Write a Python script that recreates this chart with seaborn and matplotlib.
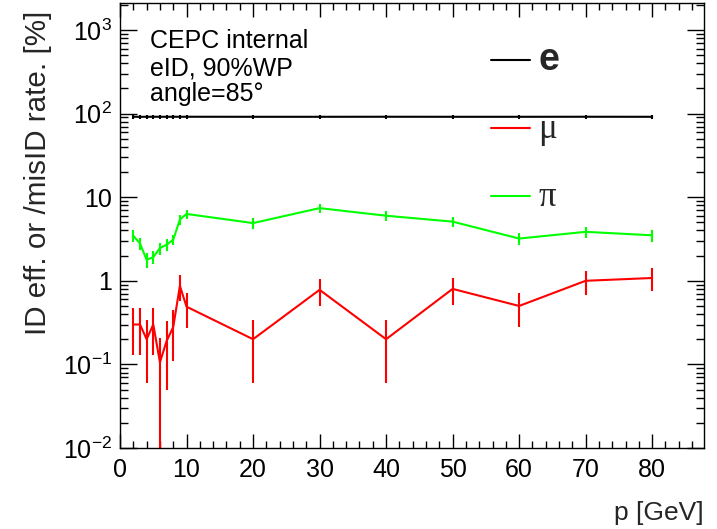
import numpy as np
import pandas as pd
import matplotlib
matplotlib.use("Agg")
import matplotlib.pyplot as plt
import matplotlib.ticker as mticker
import seaborn as sns

# momentum points [GeV]
momentum = [2, 3, 4, 5, 6, 7, 8, 9, 10, 20, 30, 40, 50, 60, 70, 80]

# electron ID efficiency [%]
eff_e = [91.5, 91.4, 91.5, 91.6, 91.5, 91.5, 91.6, 91.5, 91.6, 91.5, 91.5, 91.6, 91.5, 91.5, 91.6, 91.5]
err_e = [4.5, 4.5, 4.5, 4.5, 4.5, 4.5, 4.5, 4.5, 4.5, 4.5, 4.5, 4.5, 4.5, 4.5, 4.5, 4.5]

# muon misID rate [%]
mis_mu = [0.30, 0.30, 0.20, 0.30, 0.106, 0.19, 0.28, 0.87, 0.49, 0.20, 0.78, 0.20, 0.80, 0.50, 1.00, 1.08]
err_mu = [0.17, 0.17, 0.14, 0.17, 0.103, 0.14, 0.17, 0.30, 0.22, 0.14, 0.28, 0.14, 0.28, 0.22, 0.32, 0.33]

# pion misID rate [%]
mis_pi = [3.45, 2.80, 1.78, 1.92, 2.46, 2.70, 3.10, 5.40, 6.30, 4.90, 7.40, 6.00, 5.10, 3.20, 3.85, 3.50]
err_pi = [0.55, 0.45, 0.35, 0.35, 0.40, 0.45, 0.45, 0.70, 0.75, 0.70, 0.85, 0.75, 0.70, 0.55, 0.60, 0.55]

particles = ["e", "μ", "π"]
colors = {"e": "#000000", "μ": "#ff0000", "π": "#00ff00"}

df = pd.concat([
    pd.DataFrame({"p": momentum, "rate": eff_e, "err": err_e, "particle": "e"}),
    pd.DataFrame({"p": momentum, "rate": mis_mu, "err": err_mu, "particle": "μ"}),
    pd.DataFrame({"p": momentum, "rate": mis_pi, "err": err_pi, "particle": "π"}),
], ignore_index=True)

sns.set_theme(style="white")
plt.rcParams.update({
    "font.family": ["Liberation Sans", "DejaVu Sans"],
    "mathtext.fontset": "custom",
    "mathtext.rm": "Liberation Sans",
    "mathtext.it": "Liberation Sans:italic",
    "mathtext.bf": "Liberation Sans:bold",
    "axes.edgecolor": "black",
    "axes.linewidth": 1.0,
})

fig = plt.figure(figsize=(7.17, 5.29), dpi=100)
ax = fig.add_axes([0.1674, 0.1531, 0.8145, 0.8412])

sns.lineplot(data=df, x="p", y="rate", hue="particle", hue_order=particles,
             palette=colors, linewidth=1.5, ax=ax, legend=False, sort=False,
             estimator=None)
for name in particles:
    sub = df[df["particle"] == name]
    ax.errorbar(sub["p"], sub["rate"], yerr=sub["err"], fmt="none",
                ecolor=colors[name], elinewidth=1.5, capsize=0)

ax.set_yscale("log")
ax.set_xlim(0, 87.8)
ax.set_ylim(0.01, 2100)

ax.xaxis.set_major_locator(mticker.MultipleLocator(10))
ax.xaxis.set_minor_locator(mticker.MultipleLocator(2))
ax.yaxis.set_major_locator(mticker.FixedLocator([1e-2, 1e-1, 1, 10, 1e2, 1e3]))
ax.yaxis.set_major_formatter(mticker.FixedFormatter(
    [r"$10^{-2}$", r"$10^{-1}$", "1", "10", r"$10^{2}$", r"$10^{3}$"]))
ax.yaxis.set_minor_locator(mticker.LogLocator(base=10, subs=np.arange(2, 10), numticks=20))
ax.yaxis.set_minor_formatter(mticker.NullFormatter())

ax.tick_params(which="both", direction="in", top=True, right=True, bottom=True,
               left=True, color="black", width=1.0, labelsize=18, colors="black")
ax.tick_params(axis="x", which="major", length=10, pad=7)
ax.tick_params(axis="x", which="minor", length=5)
ax.tick_params(axis="y", which="major", length=12, pad=6)
ax.tick_params(axis="y", which="minor", length=6)

ax.set_xlabel("p [GeV]", fontsize=19, loc="right", labelpad=14)
ax.set_ylabel("ID eff. or /misID rate. [%]", fontsize=21.3)
ax.yaxis.set_label_coords(-0.117, 0.618)

for txt, yb in [("CEPC internal", 0.900), ("eID, 90%WP", 0.837), ("angle=85°", 0.780)]:
    ax.text(0.051, yb, txt, transform=ax.transAxes, fontsize=18, va="baseline",
            ha="left", color="black")

handles = [plt.Line2D([], [], color=colors[n], linewidth=1.5) for n in particles]
leg = ax.legend(handles, particles, loc="upper left", bbox_to_anchor=(0.635, 0.912),
                frameon=False, fontsize=20, handlelength=1.4, handletextpad=0.3,
                labelspacing=1.25, borderpad=0, borderaxespad=0)
texts = leg.get_texts()
texts[0].set_fontweight("bold")
texts[0].set_fontsize(27)
for t in texts[1:]:
    t.set_fontfamily(["Liberation Serif", "DejaVu Serif"])
    t.set_fontsize(25)

fig.savefig("out.png", dpi=100, facecolor="white")
